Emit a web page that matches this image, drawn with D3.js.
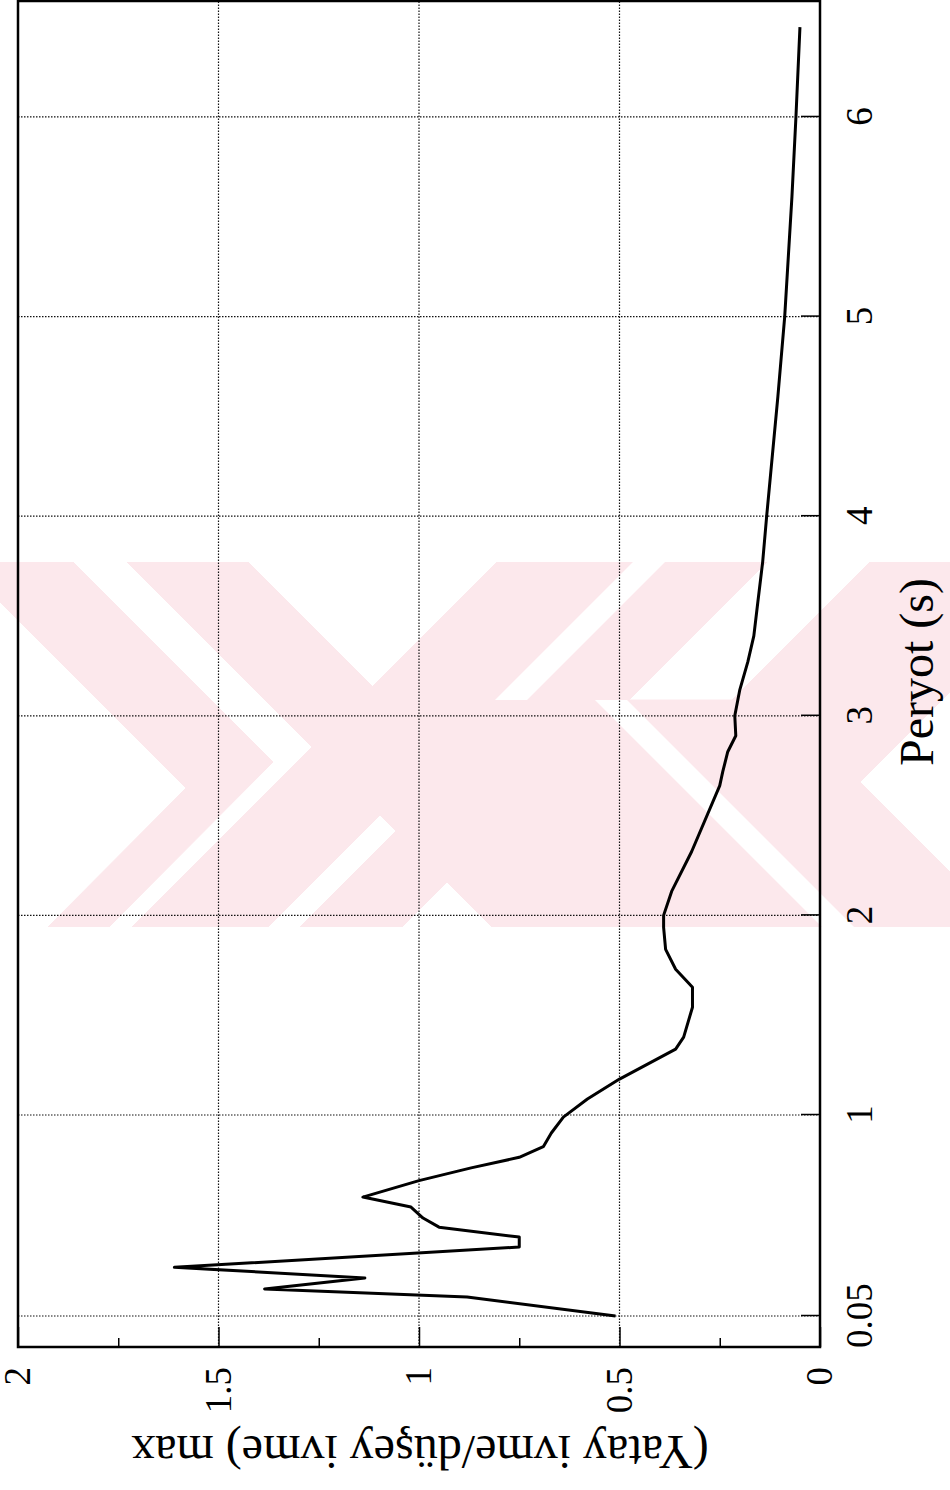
<!DOCTYPE html>
<html>
<head>
<meta charset="utf-8">
<script src="https://cdn.jsdelivr.net/npm/d3@7"></script>
<style>
  body { margin: 0; background: #fff; }
  svg text { font-family: "Liberation Serif", "Times New Roman", serif; fill: #000; }
</style>
</head>
<body>
<div id="chart-area"></div>
<script>
// ratio of horizontal to vertical peak acceleration vs period
let periods = [0.05, 0.14, 0.178, 0.23, 0.28, 0.376, 0.423, 0.47, 0.513, 0.565, 0.612,
	0.69, 0.75, 0.80, 0.85, 0.915, 0.99, 1.08, 1.18, 1.33, 1.39, 1.54, 1.64, 1.73, 1.83,
	1.94, 2.0, 2.12, 2.32, 2.65, 2.72, 2.82, 2.9, 3.0, 3.13, 3.27, 3.40, 3.57, 3.77, 4.0,
	4.6, 5.0, 5.6, 6.0, 6.45];
let ratios = [0.51, 0.88, 1.385, 1.135, 1.61, 0.75, 0.75, 0.95, 0.99, 1.02, 1.14,
	1.0, 0.87, 0.75, 0.69, 0.67, 0.64, 0.58, 0.5, 0.36, 0.34, 0.318, 0.318, 0.36, 0.385,
	0.39, 0.39, 0.37, 0.32, 0.25, 0.2425, 0.23, 0.21, 0.2125, 0.2, 0.18, 0.165, 0.155, 0.143, 0.133,
	0.105, 0.088, 0.07, 0.06, 0.05];

let periodTicks = [0.05, 1, 2, 3, 4, 5, 6];
let periodLabels = ["0.05", "1", "2", "3", "4", "5", "6"];
let ratioTicks = [0, 0.5, 1, 1.5, 2];
let ratioLabels = ["0", "0.5", "1", "1.5", "2"];
let ratioMinor = [0.25, 0.75, 1.25, 1.75];

let xTitle = "Peryot (s)";
let yTitle = "(Yatay ivme/düşey ivme) max";

let data = periods.map((p, i) => ({period: p, ratio: ratios[i]}));

let serif = "'Liberation Serif', 'Times New Roman', serif";

// the page is a normal chart turned 90 degrees counter-clockwise
let left = 18, bottom = 1347;
let width = 1346, height = 802;

let svg = d3.select("#chart-area").append("svg")
	.attr("width", 950)
	.attr("height", 1490);

// faint watermark behind the chart (diagonal stripes)
let wmTop = 562, wmBot = 927;
svg.append("clipPath").attr("id", "wmclip")
	.append("rect").attr("x", 0).attr("y", wmTop).attr("width", 950).attr("height", wmBot - wmTop);
let wm = svg.append("g").attr("clip-path", "url(#wmclip)");

// band between two 45deg edges; dir 1 = "\" , -1 = "/"
function band(c1, c2, dir, y1, y2) {
	let t1 = y1 - wmTop, t2 = y2 - wmTop;
	return [[c1 + dir * t1, y1], [c2 + dir * t1, y1], [c2 + dir * t2, y2], [c1 + dir * t2, y2]];
}
let pinkShapes = [
	[[0,562],[73,562],[273,762],[109,927],[48,927],[186,788],[0,602]],
	band(127, 248, 1, wmTop, wmBot),
	band(497, 633, -1, wmTop, wmBot),
	band(665, 767, -1, wmTop, wmBot),
	band(870, 1080, -1, wmTop, wmBot),
	band(236, 640, 1, 700, wmBot)
];
let whiteShapes = [
	band(457, 489, 1, 700, wmBot),
	band(633, 665, -1, wmTop, 700)
];
let pts = d => d.map(p => p.join(",")).join(" ");
wm.selectAll(".pink").data(pinkShapes).enter().append("polygon")
	.attr("class", "pink").attr("fill", "#fce8ec")
	.attr("stroke", "#fce8ec").attr("stroke-width", 1)
	.attr("points", pts);
wm.selectAll(".gap").data(whiteShapes).enter().append("polygon")
	.attr("class", "gap").attr("fill", "#fff").attr("points", pts);

let g = svg.append("g")
	.attr("transform", "translate(" + left + "," + bottom + ") rotate(-90)");

// Scales
let x = d3.scaleLinear()
	.domain([-0.097, 0.05, 1, 6.581])
	.range([0, 31, 232, width]);

let y = d3.scaleLinear()
	.domain([0, 2])
	.range([height, 0]);

// grid
g.selectAll(".vgrid")
	.data(periodTicks)
	.enter().append("line")
	.attr("class", "vgrid")
	.attr("x1", d => x(d)).attr("x2", d => x(d))
	.attr("y1", 0).attr("y2", height)
	.attr("stroke", "#111")
	.attr("stroke-width", 1.2)
	.attr("stroke-dasharray", "1.5,1.5");

g.selectAll(".hgrid")
	.data(ratioTicks.filter(d => d > 0 && d < 2))
	.enter().append("line")
	.attr("class", "hgrid")
	.attr("x1", 0).attr("x2", width)
	.attr("y1", d => y(d)).attr("y2", d => y(d))
	.attr("stroke", "#111")
	.attr("stroke-width", 1.2)
	.attr("stroke-dasharray", "1.5,1.5");

// axes
let xAxis = d3.axisBottom(x)
	.tickValues(periodTicks)
	.tickFormat((d, i) => periodLabels[i])
	.tickSize(-19)
	.tickPadding(26);
let xg = g.append("g")
	.attr("transform", "translate(0," + height + ")")
	.call(xAxis);

let yAxis = d3.axisLeft(y)
	.tickValues(ratioTicks)
	.tickFormat((d, i) => ratioLabels[i])
	.tickSize(-20)
	.tickPadding(20);
let yg = g.append("g").call(yAxis);

let yMinor = d3.axisLeft(y)
	.tickValues(ratioMinor)
	.tickFormat("")
	.tickSize(-9);
let ym = g.append("g").call(yMinor);

[xg, yg, ym].forEach(a => {
	a.attr("font-family", null).attr("font-size", null);
	a.select(".domain").remove();
	a.selectAll(".tick line").attr("stroke", "#000").attr("stroke-width", 1.5);
	a.selectAll("text")
		.attr("fill", "#000")
		.style("font-family", serif)
		.style("font-size", "37px");
});

// box
g.append("rect")
	.attr("x", 0).attr("y", 0)
	.attr("width", width).attr("height", height)
	.attr("fill", "none")
	.attr("stroke", "#000")
	.attr("stroke-width", 2.5);

// curve
g.append("path")
	.datum(data)
	.attr("fill", "none")
	.attr("stroke", "#000")
	.attr("stroke-width", 3)
	.attr("stroke-linejoin", "round")
	.attr("d", d3.line()
		.x(d => x(d.period))
		.y(d => y(d.ratio))
		.curve(d3.curveLinear));

// titles
g.append("text")
	.attr("x", 675)
	.attr("y", height + 113)
	.attr("text-anchor", "middle")
	.style("font-family", serif)
	.style("font-size", "48px")
	.text(xTitle);

g.append("text")
	.attr("transform", "translate(-89," + 402 + ") rotate(-90)")
	.attr("text-anchor", "middle")
	.style("font-family", serif)
	.style("font-size", "48px")
	.text(yTitle);
</script>
</body>
</html>
